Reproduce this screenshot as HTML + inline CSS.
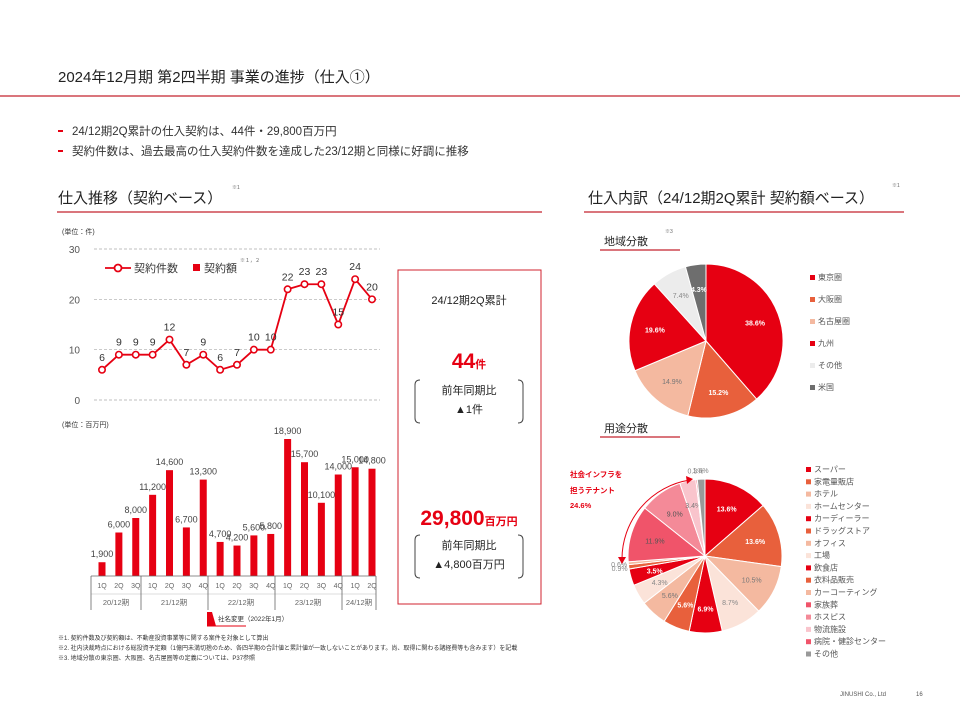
<!DOCTYPE html>
<html><head><meta charset="utf-8">
<style>
html,body{margin:0;padding:0;background:#fff;}
svg{display:block;font-family:"Liberation Sans","Noto Sans CJK JP",sans-serif;}
</style></head>
<body>
<svg id="s" width="960" height="720" viewBox="0 0 960 720" xmlns="http://www.w3.org/2000/svg">
<text x="58" y="82" font-size="15" fill="#222">2024年12月期 第2四半期 事業の進捗（仕入①）</text>
<line x1="0" y1="96" x2="960" y2="96" stroke="#c3232d" stroke-width="1.2"/>
<g font-size="11.5" fill="#333">
<rect x="58" y="130" width="5" height="2" fill="#e60012"/><text x="72" y="135">24/12期2Q累計の仕入契約は、44件・29,800百万円</text>
<rect x="58" y="150" width="5" height="2" fill="#e60012"/><text x="72" y="155">契約件数は、過去最高の仕入契約件数を達成した23/12期と同様に好調に推移</text>
</g>
<text x="58" y="203" font-size="15" fill="#222">仕入推移（契約ベース）</text>
<text x="232" y="189" font-size="5" fill="#666">※1</text>
<line x1="57" y1="212" x2="542" y2="212" stroke="#c3232d" stroke-width="1.2"/>
<text x="588" y="203" font-size="15" fill="#222">仕入内訳（24/12期2Q累計 契約額ベース）</text>
<text x="892" y="187" font-size="5" fill="#666">※1</text>
<line x1="584" y1="212" x2="904" y2="212" stroke="#c3232d" stroke-width="1.2"/>
<text x="604" y="245" font-size="11" fill="#222">地域分散</text>
<text x="665" y="233" font-size="5" fill="#666">※3</text>
<line x1="600" y1="250" x2="680" y2="250" stroke="#c3232d" stroke-width="1.2"/>
<text x="604" y="432" font-size="11" fill="#222">用途分散</text>
<line x1="600" y1="437" x2="680" y2="437" stroke="#c3232d" stroke-width="1.2"/>

<text x="62" y="234" font-size="7" fill="#333">(単位：件)</text>
<text x="62" y="427" font-size="7" fill="#333">(単位：百万円)</text>

<g id="lineChart"></g>
<g id="barChart"></g>

<g>
<line x1="105" y1="268" x2="131" y2="268" stroke="#e60012" stroke-width="1.8"/>
<circle cx="118" cy="268" r="3.5" fill="#fff" stroke="#e60012" stroke-width="1.8"/>
<text x="134" y="272" font-size="11" fill="#333">契約件数</text>
<rect x="193" y="264" width="7" height="7" fill="#e60012"/>
<text x="204" y="272" font-size="11" fill="#333">契約額</text>
<text x="240" y="262" font-size="5" fill="#666">※１，２</text>
</g>

<g font-size="7.5" fill="#666">
<line x1="91" y1="576" x2="376" y2="576" stroke="#666" stroke-width="0.8"/>
<line x1="91" y1="594" x2="376" y2="594" stroke="#bbb" stroke-width="0.6"/>
<g stroke="#666" stroke-width="0.8"><line x1="91" y1="576" x2="91" y2="610"/><line x1="141" y1="576" x2="141" y2="610"/><line x1="208" y1="576" x2="208" y2="610"/><line x1="275" y1="576" x2="275" y2="610"/><line x1="342" y1="576" x2="342" y2="610"/><line x1="376" y1="576" x2="376" y2="610"/></g>
<text x="116" y="605" text-anchor="middle">20/12期</text>
<text x="174" y="605" text-anchor="middle">21/12期</text>
<text x="241" y="605" text-anchor="middle">22/12期</text>
<text x="308" y="605" text-anchor="middle">23/12期</text>
<text x="359" y="605" text-anchor="middle">24/12期</text>
</g>
<g>
<polygon points="207,612 212,612 216,626 207,626" fill="#e60012"/>
<line x1="207" y1="626" x2="246" y2="626" stroke="#e60012" stroke-width="1"/>
<text x="218" y="621" font-size="6.5" fill="#333">社名変更（2022年1月）</text>
</g>

<g>
<rect x="398" y="270" width="143" height="334" fill="#fff" stroke="#d0232f" stroke-width="1"/>
<text x="469" y="304" font-size="11" fill="#222" text-anchor="middle">24/12期2Q累計</text>
<text x="469" y="368" text-anchor="middle" fill="#e60012" font-weight="bold"><tspan font-size="21">44</tspan><tspan font-size="11">件</tspan></text>
<path d="M420,380 q-5,0 -5,5 v33 q0,5 5,5 M518,380 q5,0 5,5 v33 q0,5 -5,5" fill="none" stroke="#444" stroke-width="1"/>
<text x="469" y="394" font-size="11" fill="#222" text-anchor="middle">前年同期比</text>
<text x="469" y="413" font-size="11" fill="#222" text-anchor="middle">▲1件</text>
<text x="469" y="525" text-anchor="middle" fill="#e60012" font-weight="bold"><tspan font-size="21">29,800</tspan><tspan font-size="11">百万円</tspan></text>
<path d="M420,535 q-5,0 -5,5 v33 q0,5 5,5 M518,535 q5,0 5,5 v33 q0,5 -5,5" fill="none" stroke="#444" stroke-width="1"/>
<text x="469" y="549" font-size="11" fill="#222" text-anchor="middle">前年同期比</text>
<text x="469" y="568" font-size="11" fill="#222" text-anchor="middle">▲4,800百万円</text>
</g>

<g id="pie1"></g>
<g id="pie2"></g>

<g fill="#e60012" font-size="7.5" font-weight="bold">
<text x="570" y="477">社会インフラを</text>
<text x="570" y="493">担うテナント</text>
<text x="570" y="508">24.6%</text>
<path d="M690,480 A80,80 0 0 0 622,560" fill="none" stroke="#e60012" stroke-width="1"/>
<polygon points="693,479 686,476 687,484" fill="#e60012"/>
<polygon points="622,564 618,557 626,557" fill="#e60012"/>
</g>

<g font-size="6" fill="#333">
<text x="58" y="640">※1.  契約件数及び契約額は、不動産投資事業等に関する案件を対象として算出</text>
<text x="58" y="650">※2.  社内決裁時点における総投資予定額（1億円未満切捨のため、各四半期の合計値と累計値が一致しないことがあります。尚、取得に関わる諸経費等も含みます）を記載</text>
<text x="58" y="660">※3.  地域分散の東京圏、大阪圏、名古屋圏等の定義については、P37参照</text>
</g>
<text x="840" y="696" font-size="6" fill="#555">JINUSHI Co., Ltd</text>
<text x="916" y="696" font-size="6" fill="#555">16</text>

<script>
const quarters=["1Q","2Q","3Q","1Q","2Q","3Q","4Q","1Q","2Q","3Q","4Q","1Q","2Q","3Q","4Q","1Q","2Q"];
const counts=[6,9,9,9,12,7,9,6,7,10,10,22,23,23,15,24,20];
const amounts=[1900,6000,8000,11200,14600,6700,13300,4700,4200,5600,5800,18900,15700,10100,14000,15000,14800];
const countTicks=[0,10,20,30];
const regionLabels=["東京圏","大阪圏","名古屋圏","九州","その他","米国"];
const regionValues=[38.6,15.2,14.9,19.6,7.4,4.3];
const usageLabels=["スーパー","家電量販店","ホテル","ホームセンター","カーディーラー","ドラッグストア","オフィス","工場","飲食店","衣料品販売","カーコーティング","家族葬","ホスピス","物流施設","病院・健診センター","その他"];
const usageValues=[13.6,13.6,10.5,8.7,6.9,5.6,5.6,4.3,3.5,0.9,0.6,11.9,9.0,3.4,0.3,1.6];

const NS="http://www.w3.org/2000/svg";
function mk(tag,attrs,parent){const e=document.createElementNS(NS,tag);for(const k in attrs)e.setAttribute(k,attrs[k]);parent.appendChild(e);return e;}
const xPos=i=>102+i*(372-102)/(counts.length-1);
const yCount=v=>400-v*(151/30);
const yAmt=v=>576-v*(137/18900);

const lc=document.getElementById('lineChart');
countTicks.forEach(t=>{
  const l=mk('line',{x1:94,x2:380,y1:yCount(t),y2:yCount(t),stroke:'#aaa','stroke-width':0.7,'stroke-dasharray':'3,2'},lc);
  
  
  const tx=mk('text',{x:80,y:yCount(t)+4,'font-size':10,fill:'#555','text-anchor':'end'},lc);
  tx.textContent=t;
  
  
});
const pl=mk('polyline',{points:counts.map((v,i)=>xPos(i)+','+yCount(v)).join(' '),fill:'none',stroke:'#e60012','stroke-width':1.8},lc);


counts.forEach((v,i)=>{
  const c=mk('circle',{cx:xPos(i),cy:yCount(v),r:3.2,fill:'#fff',stroke:'#e60012','stroke-width':1.6},lc);
  
  
  const t=mk('text',{x:xPos(i),y:yCount(v)-9,'font-size':10.5,fill:'#333','text-anchor':'middle'},lc);
  t.textContent=v;
  
  
});

const bc=document.getElementById('barChart');
amounts.forEach((v,i)=>{
  const r=mk('rect',{x:xPos(i)-3.5,y:yAmt(v),width:7,height:576-yAmt(v),fill:'#e60012'},bc);
  
  
  const t=mk('text',{x:xPos(i),y:yAmt(v)-5,'font-size':9,fill:'#444','text-anchor':'middle'},bc);
  t.textContent=v.toLocaleString('en-US');
  
  
  const q=mk('text',{x:xPos(i),y:588,'font-size':7,fill:'#666','text-anchor':'middle'},bc);
  q.textContent=quarters[i];
  
  
});

function pie(g,cx,cy,r,vals,labels,colors,textCols,legX,legY,legStep,legFont){
  const total=vals.reduce((a,b)=>a+b,0);
  let a=-Math.PI/2;
  vals.forEach((v,i)=>{
    const sw=v/total*2*Math.PI, a2=a+sw;
    const x1=cx+r*Math.cos(a),y1=cy+r*Math.sin(a),x2=cx+r*Math.cos(a2),y2=cy+r*Math.sin(a2);
    const p=mk('path',{d:`M${cx},${cy} L${x1},${y1} A${r},${r} 0 ${sw>Math.PI?1:0} 1 ${x2},${y2} Z`,fill:colors[i],stroke:'#fff','stroke-width':1},g);
    
    
    const m=(a+a2)/2, lr=v<2?r*1.12:r*0.68;
    const t=mk('text',{x:cx+lr*Math.cos(m),y:cy+lr*Math.sin(m)+3,'font-size':7,fill:textCols[i],'text-anchor':'middle','font-weight':textCols[i]=='#fff'?'bold':'normal'},g);
    t.textContent=v.toFixed(1)+'%';
    
    
    a=a2;
  });
  labels.forEach((l,i)=>{
    const sq=mk('rect',{x:legX,y:legY+i*legStep-5,width:5,height:5,fill:colors[i]},g);
    
    
    const t=mk('text',{x:legX+8,y:legY+i*legStep,'font-size':legFont,fill:'#555'},g);
    t.textContent=l;
    
    
  });
}
const R='#e60012',O='#e8603c',S='#f4b9a0',P='#fbe3d9';
pie(document.getElementById('pie1'),706,341,77,regionValues,regionLabels,
  [R,O,S,R,'#ececec','#6e6e6e'],['#fff','#fff','#777','#fff','#888','#fff'],810,280,22,8);
pie(document.getElementById('pie2'),705,556,77,usageValues,usageLabels,
  [R,O,S,P,R,O,S,P,R,O,S,'#f0546a','#f48a98','#f9c4cc','#f0546a','#999'],
  ['#fff','#fff','#777','#888','#fff','#fff','#777','#888','#fff','#888','#888','#555','#555','#777','#888','#888'],806,472,12.3,8);
</script>
</svg>
</body></html>
